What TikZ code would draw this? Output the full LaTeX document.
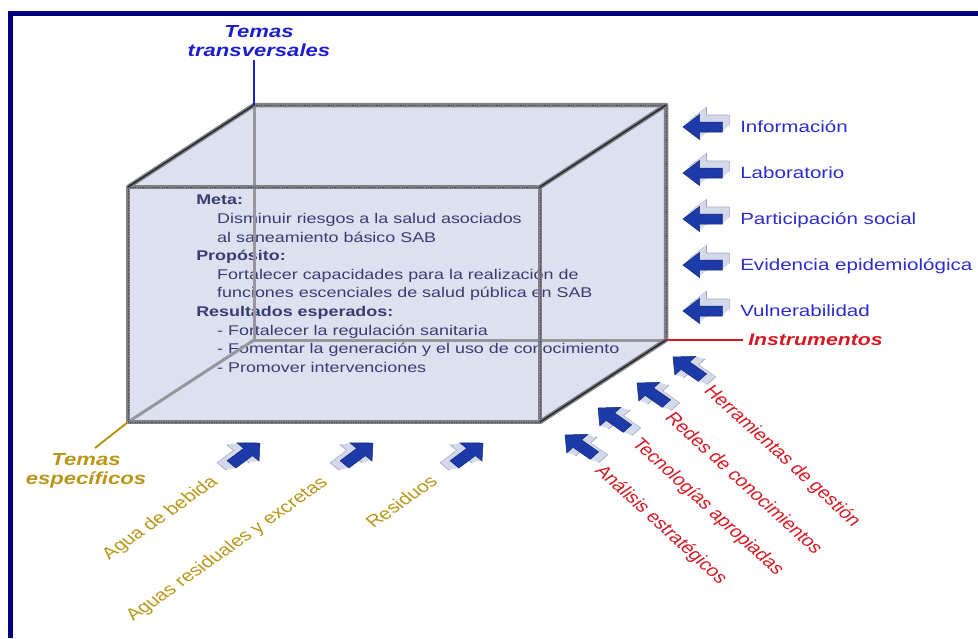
\documentclass[tikz,border=0pt]{standalone}
\usepackage{fontspec}
\setmainfont{Liberation Sans}

\definecolor{navy}{RGB}{0,0,128}
\definecolor{boxfill}{RGB}{221,224,238}
\definecolor{edgegray}{RGB}{128,128,135}
\definecolor{edgedark}{RGB}{40,40,45}
\definecolor{edgedot}{RGB}{70,70,85}
\definecolor{hidgray}{RGB}{150,150,158}
\definecolor{boxtext}{RGB}{55,60,115}
\definecolor{lblue}{RGB}{45,45,205}
\definecolor{tblue}{RGB}{30,30,205}
\definecolor{gold}{RGB}{185,150,25}
\definecolor{instred}{RGB}{215,25,35}
\definecolor{arrowface}{RGB}{28,58,168}
\definecolor{arrowrim}{RGB}{20,40,120}
\definecolor{arrowside}{RGB}{212,216,235}
\definecolor{arrowedge}{RGB}{160,165,190}

% 3D block arrow: tip (#1,#2), direction #3, extrusion offset (#4,#5)
\newcommand{\blockarrow}[5]{%
  \fill[arrowside, draw=arrowedge, line width=0.6pt,
        shift={({#1+(#4)},{#2+(#5)})}, xscale=1.27, rotate=#3]
    (0,0) -- (-13,-12.5) -- (-13,-5) -- (-31,-5) -- (-31,5) -- (-13,5) -- (-13,12.5) -- cycle;
  \foreach \k in {7,...,1}{
    \fill[arrowside, shift={({#1+\k*(#4)/8},{#2+\k*(#5)/8})}, xscale=1.27, rotate=#3]
      (0,0) -- (-13,-12.5) -- (-13,-5) -- (-31,-5) -- (-31,5) -- (-13,5) -- (-13,12.5) -- cycle;
  }
  \fill[arrowface, draw=arrowrim, line width=0.5pt,
        shift={(#1,#2)}, xscale=1.27, rotate=#3]
    (0,0) -- (-13,-12.5) -- (-13,-5) -- (-31,-5) -- (-31,5) -- (-13,5) -- (-13,12.5) -- cycle;
}

\begin{document}
\begin{tikzpicture}[x=1pt, y=-1pt,
  txt/.style={transform shape, xscale=1.27, inner sep=0pt},
  boxfont/.style={font=\fontsize{14.1}{18.6}\selectfont, text=boxtext},
  sidelabel/.style={txt, anchor=base west, text=lblue, font=\fontsize{16.2}{19}\selectfont},
  goldlabel/.style={txt, anchor=base east, text=gold, font=\fontsize{16.5}{19}\selectfont},
  redlabel/.style={txt, anchor=base west, text=instred, font=\fontsize{16.5}{19}\selectfont},
  heading/.style={txt, align=center, font=\bfseries\itshape\fontsize{17.4}{18.5}\selectfont},
  thickedge/.style={draw=edgegray, line width=4.5pt, line join=round},
  dottededge/.style={draw=edgedot, line width=0.9pt, dash pattern=on 1.2pt off 1.2pt},
  darkedge/.style={draw=edgedark, line width=1.5pt, line cap=round},
  hiddenedge/.style={draw=hidgray, line width=3pt},
]
\useasboundingbox (0,0) rectangle (978,638);
\fill[white] (0,0) rectangle (978,638);

% frame: top and left bars
\fill[navy] (8,11) rectangle (978,16);
\fill[navy] (8,11) rectangle (13,638);

% cube corners
\coordinate (ftl) at (128,187);
\coordinate (ftr) at (540,187);
\coordinate (fbl) at (128,422);
\coordinate (fbr) at (540,422);
\coordinate (btl) at (254,105);
\coordinate (btr) at (666,105);
\coordinate (bbl) at (254,340);
\coordinate (bbr) at (666,340);

% translucent body
\fill[boxfill] (ftl) -- (btl) -- (btr) -- (bbr) -- (fbr) -- (fbl) -- cycle;

% text inside the box
\node[shift={(196,195)}, txt, boxfont, anchor=north west, align=left] (goal) at (0,0)
{\textbf{Meta:}\\
\hspace*{16.5pt}Disminuir riesgos a la salud asociados\\
\hspace*{16.5pt}al saneamiento básico SAB\\
\textbf{Propósito:}\\
\hspace*{16.5pt}Fortalecer capacidades para la realización de\\
\hspace*{16.5pt}funciones escenciales de salud pública en SAB\\
\textbf{Resultados esperados:}\\
\hspace*{16.5pt}- Fortalecer la regulación sanitaria\\
\hspace*{16.5pt}- Fomentar la generación y el uso de conocimiento\\
\hspace*{16.5pt}- Promover intervenciones};

% hidden edges
\draw[hiddenedge] (btl) -- (bbl) -- (bbr);
\draw[hiddenedge] (fbl) -- (bbl);

% visible edges: gray rims with dotted cores, dark receding edges
\draw[thickedge] (ftl) -- (ftr) -- (fbr) -- (fbl) -- cycle;
\draw[thickedge] (ftl) -- (btl) -- (btr) -- (bbr) -- (fbr);
\draw[thickedge] (ftr) -- (btr);
\draw[dottededge] (ftl) -- (ftr) -- (fbr) -- (fbl) -- cycle;
\draw[dottededge] (btl) -- (btr) -- (bbr);
\draw[darkedge] (ftl) -- (btl);
\draw[darkedge] (ftr) -- (btr);
\draw[darkedge] (fbr) -- (bbr);

% Temas transversales
\node[shift={(259,41)}, heading, text=tblue] (transv) at (0,0) {Temas\\transversales};
\coordinate (transvend) at (254,60);
\draw[tblue, line width=2pt] (transvend) -- (btl);

% Temas especificos
\node[shift={(86,471)}, heading, text=gold] (espec) at (0,0) {Temas\\específicos};
\coordinate (especend) at (95,448);
\draw[gold, line width=2pt] (fbl) -- (especend);

% Instrumentos
\node[shift={(748,340)}, txt, anchor=west, text=instred,
      font=\bfseries\itshape\fontsize{16.7}{19}\selectfont] (instr) at (0,0) {Instrumentos};
\coordinate (instrend) at (743,340);
\draw[instred, line width=2.5pt] (bbr) -- (instrend);

% side labels with arrows
\node[shift={(740,132)}, sidelabel] (info) at (0,0) {Información};
\node[shift={(740,178)}, sidelabel] (lab) at (0,0) {Laboratorio};
\node[shift={(740,224)}, sidelabel] (part) at (0,0) {Participación social};
\node[shift={(740,270)}, sidelabel] (evid) at (0,0) {Evidencia epidemiológica};
\node[shift={(740,316)}, sidelabel] (vuln) at (0,0) {Vulnerabilidad};
\foreach \yy in {127,173,219,265,311}{
  \blockarrow{683}{\yy}{180}{7}{-7}
}

% bottom labels with arrows
\node[shift={(219,483)}, goldlabel, rotate=41.8] (agua) at (0,0) {Agua de bebida};
\node[shift={(329,484)}, goldlabel, rotate=41.8] (aguasres) at (0,0) {Aguas residuales y excretas};
\node[shift={(439,483)}, goldlabel, rotate=41.8] (resid) at (0,0) {Residuos};
\blockarrow{260}{443}{43.7}{-10}{2}
\blockarrow{373}{443}{43.7}{-10}{2}
\blockarrow{483}{443}{43.7}{-10}{2}

% instrument labels with arrows
\node[shift={(703,391)}, redlabel, rotate=-49.2] (herr) at (0,0) {Herramientas de gestión};
\node[shift={(664,418)}, redlabel, rotate=-49.2] (redes) at (0,0) {Redes de conocimientos};
\node[shift={(631,444)}, redlabel, rotate=-49.2] (tecno) at (0,0) {Tecnologías apropiadas};
\node[shift={(594,471)}, redlabel, rotate=-49.2] (anal) at (0,0) {Análisis estratégicos};
\blockarrow{673}{357}{138.4}{9}{3}
\blockarrow{637}{383}{138.4}{9}{3}
\blockarrow{598}{408}{138.4}{9}{3}
\blockarrow{565}{435}{138.4}{9}{3}
\end{tikzpicture}
\end{document}
